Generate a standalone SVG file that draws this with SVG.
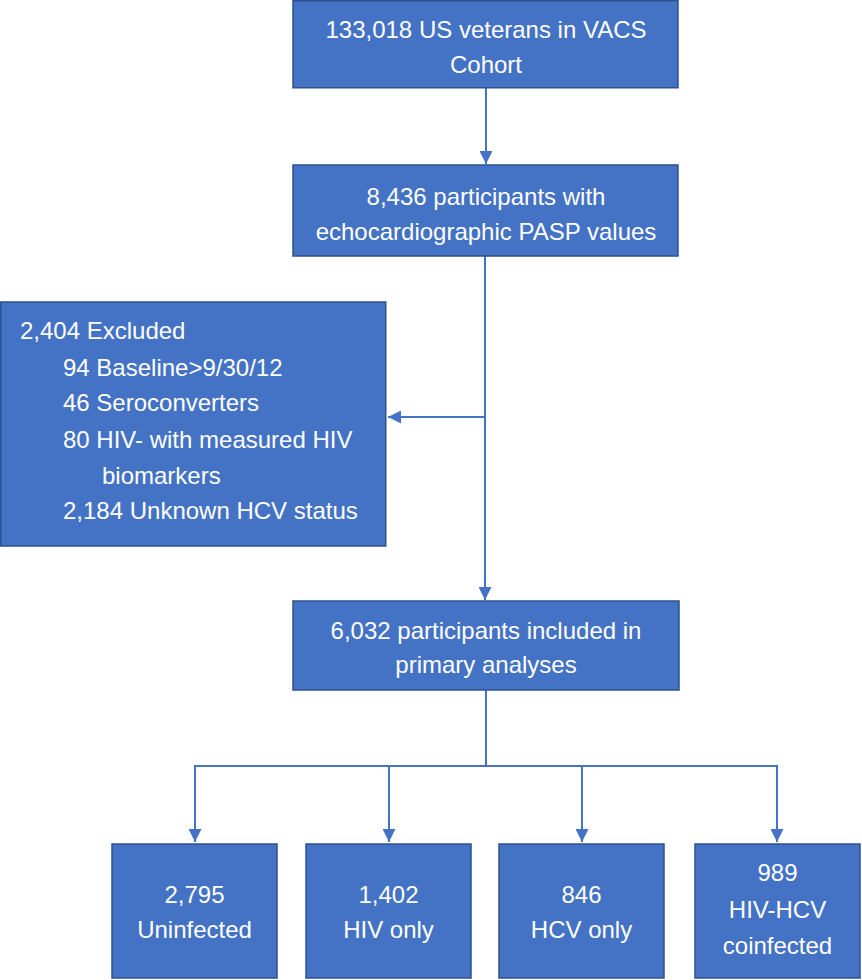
<svg xmlns="http://www.w3.org/2000/svg" width="862" height="980" viewBox="0 0 862 980">
<defs>
<marker id="ah" viewBox="0 0 10 10" refX="10" refY="5" markerWidth="6.5" markerHeight="6.5" markerUnits="strokeWidth" orient="auto">
<path d="M0,0 L10,5 L0,10 Z" fill="#4472C4"/>
</marker>
<style>
.box{fill:#4472C4;stroke:#2F528F;stroke-width:1.5}
.t{font-family:"Liberation Sans",Arial,sans-serif;font-size:24px;fill:#ffffff}
.c{text-anchor:middle}
.ln{fill:none;stroke:#4472C4;stroke-width:2}
</style>
</defs>
<rect width="862" height="980" fill="#ffffff"/>
<g id="connectors">
<line class="ln" x1="486" y1="88" x2="486" y2="164" marker-end="url(#ah)"/>
<line class="ln" x1="485" y1="256" x2="485" y2="600" marker-end="url(#ah)"/>
<line class="ln" x1="485" y1="417" x2="388" y2="417" marker-end="url(#ah)"/>
<line class="ln" x1="486" y1="690" x2="486" y2="766"/>
<polyline class="ln" points="195,766 777,766"/>
<line class="ln" x1="195" y1="765" x2="195" y2="842" marker-end="url(#ah)"/>
<line class="ln" x1="389" y1="765" x2="389" y2="842" marker-end="url(#ah)"/>
<line class="ln" x1="582" y1="765" x2="582" y2="842" marker-end="url(#ah)"/>
<line class="ln" x1="777" y1="765" x2="777" y2="842" marker-end="url(#ah)"/>
</g>
<g id="n1">
<rect class="box" x="293" y="0.75" width="385" height="87"/>
<text class="t c" x="486" y="38">133,018 US veterans in VACS</text>
<text class="t c" x="486" y="73">Cohort</text>
</g>
<g id="n2">
<rect class="box" x="293" y="165" width="385" height="91"/>
<text class="t c" x="486" y="205">8,436 participants with</text>
<text class="t c" x="486" y="240">echocardiographic PASP values</text>
</g>
<g id="n3">
<rect class="box" x="0.75" y="302" width="385" height="244"/>
<text class="t" x="20" y="339">2,404 Excluded</text>
<text class="t" x="63" y="376">94 Baseline&gt;9/30/12</text>
<text class="t" x="63" y="411">46 Seroconverters</text>
<text class="t" x="63" y="448">80 HIV- with measured HIV</text>
<text class="t" x="102" y="484">biomarkers</text>
<text class="t" x="63" y="519">2,184 Unknown HCV status</text>
</g>
<g id="n4">
<rect class="box" x="293" y="601" width="386" height="89"/>
<text class="t c" x="486" y="639">6,032 participants included in</text>
<text class="t c" x="486" y="673">primary analyses</text>
</g>
<g id="n5">
<rect class="box" x="112" y="844" width="165" height="134"/>
<text class="t c" x="194.5" y="903">2,795</text>
<text class="t c" x="194.5" y="938">Uninfected</text>
</g>
<g id="n6">
<rect class="box" x="306" y="844" width="165" height="134"/>
<text class="t c" x="388.5" y="903">1,402</text>
<text class="t c" x="388.5" y="938">HIV only</text>
</g>
<g id="n7">
<rect class="box" x="499" y="844" width="165" height="134"/>
<text class="t c" x="581.5" y="903">846</text>
<text class="t c" x="581.5" y="938">HCV only</text>
</g>
<g id="n8">
<rect class="box" x="695" y="844" width="165" height="134"/>
<text class="t c" x="777.5" y="881">989</text>
<text class="t c" x="777.5" y="918">HIV-HCV</text>
<text class="t c" x="777.5" y="954">coinfected</text>
</g>
</svg>
